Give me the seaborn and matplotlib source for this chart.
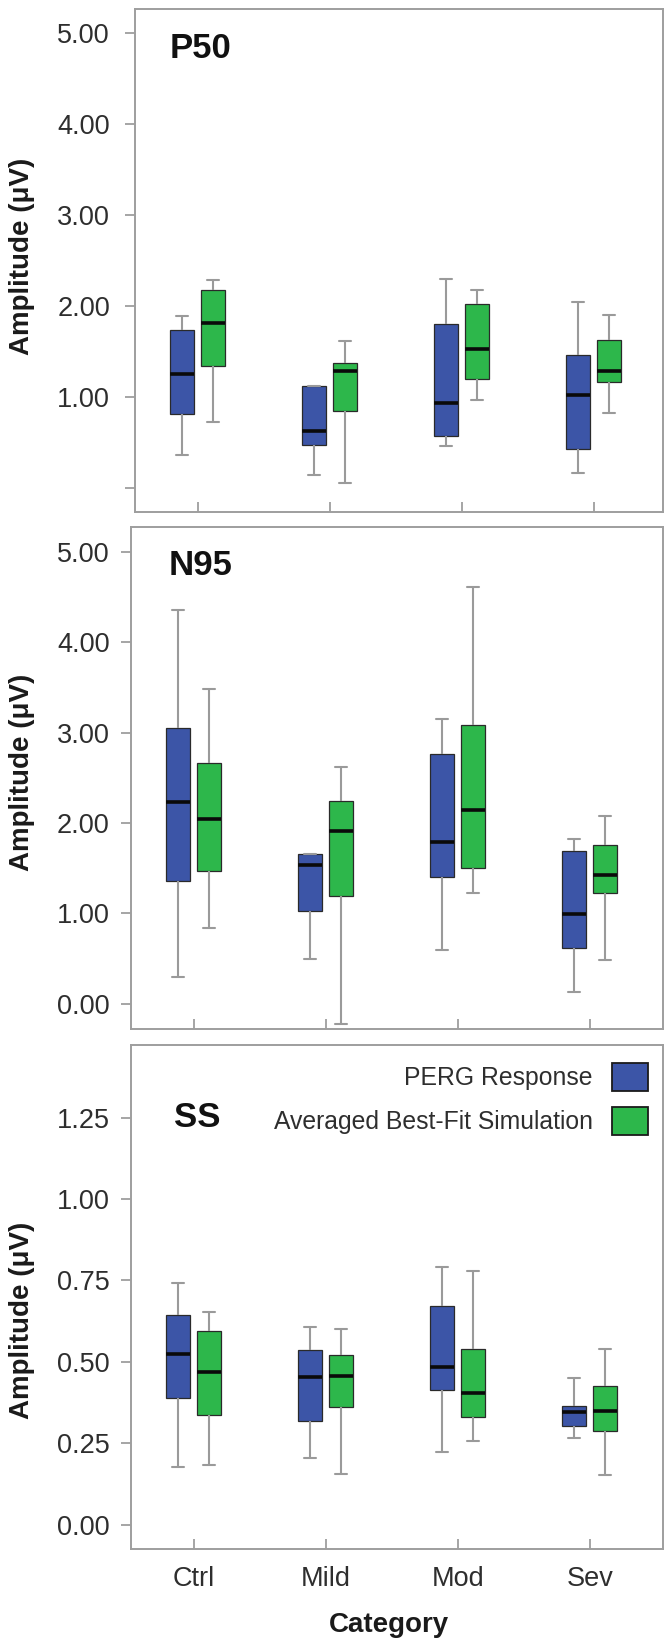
import numpy as np
import pandas as pd
import matplotlib
matplotlib.use("Agg")
import matplotlib.pyplot as plt
import seaborn as sns
from matplotlib.patches import Patch

# ---------------- data ----------------
categories = ["Ctrl", "Mild", "Mod", "Sev"]
series = ["PERG Response", "Averaged Best-Fit Simulation"]
panel_names = ["P50", "N95", "SS"]

# P50 amplitude summary (whisker low, Q1, median, Q3, whisker high)
p50_perg_lo = [0.36, 0.14, 0.46, 0.16]
p50_perg_q1 = [0.81, 0.47, 0.57, 0.43]
p50_perg_med = [1.25, 0.63, 0.93, 1.02]
p50_perg_q3 = [1.73, 1.12, 1.80, 1.46]
p50_perg_hi = [1.89, 1.12, 2.30, 2.04]

p50_sim_lo = [0.72, 0.05, 0.97, 0.82]
p50_sim_q1 = [1.34, 0.85, 1.20, 1.16]
p50_sim_med = [1.81, 1.29, 1.53, 1.29]
p50_sim_q3 = [2.18, 1.37, 2.02, 1.63]
p50_sim_hi = [2.28, 1.62, 2.18, 1.90]

# N95
n95_perg_lo = [0.29, 0.49, 0.59, 0.13]
n95_perg_q1 = [1.36, 1.03, 1.40, 0.62]
n95_perg_med = [2.23, 1.53, 1.79, 0.99]
n95_perg_q3 = [3.05, 1.66, 2.77, 1.69]
n95_perg_hi = [4.36, 1.66, 3.15, 1.82]

n95_sim_lo = [0.84, -0.23, 1.23, 0.48]
n95_sim_q1 = [1.47, 1.19, 1.50, 1.23]
n95_sim_med = [2.04, 1.91, 2.14, 1.43]
n95_sim_q3 = [2.66, 2.24, 3.09, 1.76]
n95_sim_hi = [3.49, 2.62, 4.61, 2.08]

# SS
ss_perg_lo = [0.176, 0.204, 0.224, 0.266]
ss_perg_q1 = [0.389, 0.317, 0.413, 0.302]
ss_perg_med = [0.525, 0.453, 0.485, 0.347]
ss_perg_q3 = [0.644, 0.536, 0.672, 0.365]
ss_perg_hi = [0.743, 0.607, 0.791, 0.451]

ss_sim_lo = [0.182, 0.155, 0.258, 0.152]
ss_sim_q1 = [0.338, 0.361, 0.330, 0.287]
ss_sim_med = [0.470, 0.458, 0.403, 0.348]
ss_sim_q3 = [0.594, 0.522, 0.539, 0.427]
ss_sim_hi = [0.654, 0.602, 0.779, 0.539]

p50_ticks = [0, 1, 2, 3, 4, 5]
p50_ticklabels = ["", "1.00", "2.00", "3.00", "4.00", "5.00"]
n95_ticks = [0, 1, 2, 3, 4, 5]
n95_ticklabels = ["0.00", "1.00", "2.00", "3.00", "4.00", "5.00"]
ss_ticks = [0, 0.25, 0.5, 0.75, 1.0, 1.25]
ss_ticklabels = ["0.00", "0.25", "0.50", "0.75", "1.00", "1.25"]


def build_frame(perg, sim):
    rows = []
    for name, stats in zip(series, [perg, sim]):
        for i, cat in enumerate(categories):
            for s in stats:
                rows.append({"Category": cat, "Series": name, "Amplitude": s[i]})
    return pd.DataFrame(rows)


frames = [
    build_frame([p50_perg_lo, p50_perg_q1, p50_perg_med, p50_perg_q3, p50_perg_hi],
                [p50_sim_lo, p50_sim_q1, p50_sim_med, p50_sim_q3, p50_sim_hi]),
    build_frame([n95_perg_lo, n95_perg_q1, n95_perg_med, n95_perg_q3, n95_perg_hi],
                [n95_sim_lo, n95_sim_q1, n95_sim_med, n95_sim_q3, n95_sim_hi]),
    build_frame([ss_perg_lo, ss_perg_q1, ss_perg_med, ss_perg_q3, ss_perg_hi],
                [ss_sim_lo, ss_sim_q1, ss_sim_med, ss_sim_q3, ss_sim_hi]),
]
ticks = [p50_ticks, n95_ticks, ss_ticks]
ticklabels = [p50_ticklabels, n95_ticklabels, ss_ticklabels]

# ---------------- style ----------------
sns.set_style("white")
plt.rcParams["font.family"] = ["Liberation Sans", "DejaVu Sans"]

blue = "#3C55A7"
green = "#2DB74B"
spine_col = "#9e9e9e"
text_col = "#2e2e2e"

W, H = 665, 1642
fig = plt.figure(figsize=(W / 100, H / 100), dpi=100)

# axes boxes in pixels: left, right, top, bottom
boxes = [(135, 662.7, 9.5, 512.3), (130.6, 662.7, 526.7, 1029), (130.6, 663, 1044.8, 1549)]
ylims = [(-0.267, 5.256), (-0.281, 5.282), (-0.075, 1.474)]
xlims = [(-0.474, 3.522), (-0.48, 3.553), (-0.48, 3.555)]
label_pos = [(0.066, 0.903), (0.072, 0.904), (0.0815, 0.837)]
ylabel_pos = [(-0.1895, 0.509), (-0.1797, 0.510), (-0.1797, 0.454)]
ypads = [10.5, 7.5, 7.5]

for k in range(3):
    l, r, t, b = boxes[k]
    ax = fig.add_axes([l / W, 1 - b / H, (r - l) / W, (b - t) / H])
    sns.boxplot(
        data=frames[k], x="Category", y="Amplitude", hue="Series",
        order=categories, hue_order=series, palette=[blue, green], saturation=1,
        width=0.47, gap=0.23, whis=(0, 100), legend=False, ax=ax,
        boxprops=dict(edgecolor="#2a2a2a", linewidth=0.9),
        medianprops=dict(color="#0a0a0a", linewidth=2.6),
        whiskerprops=dict(color="#9a9a9a", linewidth=1.5),
        capprops=dict(color="#9a9a9a", linewidth=1.5),
    )
    ax.set_xlim(*xlims[k])
    ax.set_ylim(*ylims[k])
    ax.set_yticks(ticks[k])
    ax.set_yticklabels(ticklabels[k])
    for sp in ax.spines.values():
        sp.set_visible(True)
        sp.set_color(spine_col)
        sp.set_linewidth(1.4)
    ax.tick_params(axis="y", direction="out", length=7.5, width=1.3, color=spine_col,
                   labelsize=19.5, labelcolor=text_col, pad=ypads[k], left=True)
    ax.tick_params(axis="x", direction="in", length=7, width=1.3, color=spine_col,
                   labelsize=19.5, labelcolor=text_col, pad=12, bottom=True,
                   labelbottom=(k == 2))
    ax.text(label_pos[k][0], label_pos[k][1], panel_names[k], transform=ax.transAxes,
            fontsize=25, fontweight="bold", ha="left", va="baseline", color="#111111")
    ax.set_ylabel("Amplitude (μV)", fontsize=20, fontweight="bold", color="#1a1a1a")
    ax.yaxis.set_label_coords(*ylabel_pos[k])
    if k == 2:
        ax.set_xlabel("Category", fontsize=20, fontweight="bold", color="#1a1a1a")
        ax.xaxis.set_label_coords(0.486, -0.124)
        handles = [Patch(facecolor=blue, edgecolor="#1a1a1a", linewidth=1.3, label=series[0]),
                   Patch(facecolor=green, edgecolor="#1a1a1a", linewidth=1.3, label=series[1])]
        leg = ax.legend(handles=handles, loc="upper right", bbox_to_anchor=(0.9724, 0.964),
                        frameon=False, markerfirst=False, fontsize=17.8, handlelength=1.45,
                        handleheight=1.38, handletextpad=0.8, labelspacing=0.62,
                        borderpad=0, borderaxespad=0)
        for txt in leg.get_texts():
            txt.set_color(text_col)
    else:
        ax.set_xlabel("")

fig.savefig("out.png", dpi=100, facecolor="white")
